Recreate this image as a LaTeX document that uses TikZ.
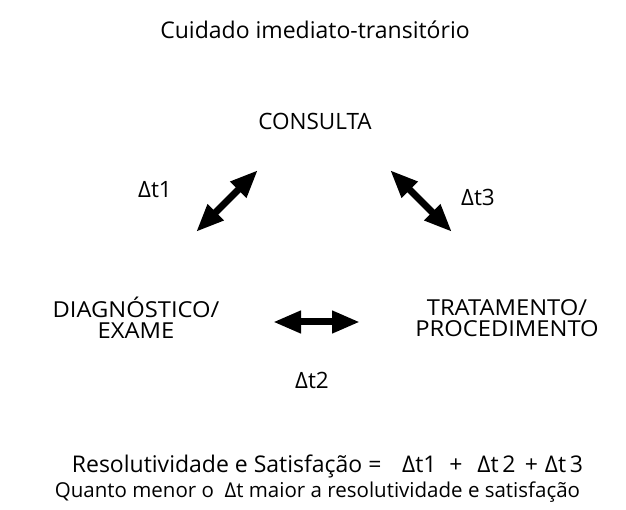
\documentclass[tikz,border=0pt]{standalone}
\usepackage{fontspec}
\setmainfont{Open Sans}
\newfontfamily\widesans[FakeStretch=1.08]{Open Sans}
\usetikzlibrary{arrows.meta}
\begin{document}
\begin{tikzpicture}[x=1pt,y=-1pt,
  lbl/.style={font=\fontsize{22.5}{24}\selectfont, align=center, inner sep=0pt},
  box/.style={font=\widesans\fontsize{22}{21}\selectfont, align=center, inner sep=0pt},
  ttl/.style={font=\fontsize{23}{26}\selectfont, align=center, inner sep=0pt},
  eqs/.style={font=\fontsize{23}{26}\selectfont, align=center, inner sep=0pt},
  big/.style={font=\fontsize{20.5}{26}\selectfont, align=center, inner sep=0pt},
  fat/.style={line width=7pt, {Triangle[length=28pt,width=21pt]}-{Triangle[length=28pt,width=21pt]}, shorten <=0pt, shorten >=0pt}]
\useasboundingbox (0,0) rectangle (626,510);
\node[ttl] (title) at (315,30) {Cuidado imediato-transitório};
\node[lbl] (cons) at (315,121) {CONSULTA};
\node[box] (diag) at (136,318) {DIAGNÓSTICO/\\EXAME};
\node[box] (trat) at (507,318) {TRATAMENTO/\\PROCEDIMENTO};
\node[lbl] (d1) at (155,190) {Δt1};
\node[lbl] (d3) at (478,197) {Δt3};
\node[lbl] (d2) at (312,380) {Δt2};
\coordinate (a1s) at (196,232);
\coordinate (a1e) at (258,170);
\coordinate (a3s) at (390,170);
\coordinate (a3e) at (452,232);
\coordinate (a2s) at (273,322);
\coordinate (a2e) at (360,322);
\draw[fat] (a1s) -- (a1e);
\draw[fat] (a3s) -- (a3e);
\draw[fat] (a2s) -- (a2e);
\node[eqs] (eq) at (327.5,466) {Resolutividade e Satisfação =\hspace{0.9em}Δt1\hspace{0.55em}+\hspace{0.65em}Δt\,2\hspace{0.4em}+\hspace{0.3em}Δt\,3};
\node[big] (q) at (317.5,492) {Quanto menor o\ \ Δt\ maior a resolutividade e satisfação};
\end{tikzpicture}
\end{document}
